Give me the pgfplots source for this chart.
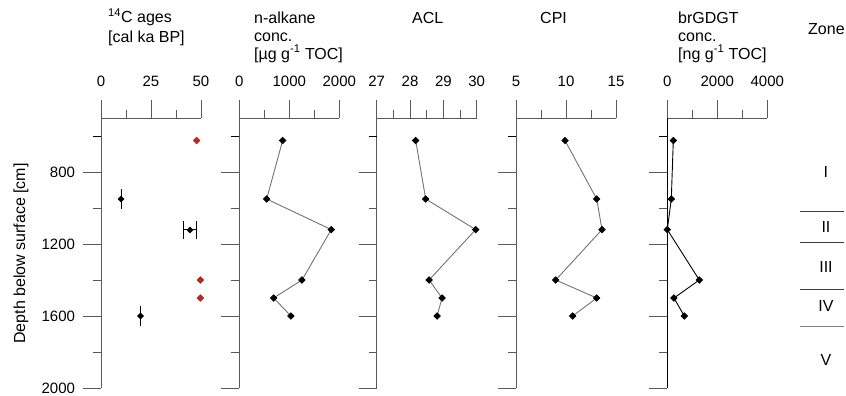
\documentclass[border=0pt]{standalone}
\usepackage{pgfplots}
\pgfplotsset{compat=1.18}
\usepackage{fontspec}
\setmainfont{Liberation Sans}
\definecolor{axgray}{RGB}{90,90,90}
\definecolor{lngray}{RGB}{115,115,115}
\definecolor{zred}{RGB}{230,20,20}
\begin{document}
\fontsize{16bp}{19bp}\selectfont
\begin{tikzpicture}[x=1bp,y=1bp]
\path[use as bounding box] (0bp,0bp) rectangle (846bp,-396bp);
\pgfplotsset{
  core/.style={
    scale only axis, width=100bp, height=270bp,
    anchor=center,
    ymin=500, ymax=2000, y dir=reverse,
    axis x line*=top, axis y line*=left,
    axis line style={draw=axgray, line width=1bp, -},
    tick align=outside,
    tick style={draw=axgray, line width=1bp},
    major tick length=18bp, minor tick length=8bp,
    ytick={800,1200,1600,2000}, minor ytick={1000,1400,1800},
    extra y ticks={600}, extra y tick labels={},
    extra y tick style={major tick length=8bp, tick style={draw=black}},
    yticklabels={},
    /pgf/number format/assume math mode=true,
    /pgf/number format/1000 sep={},
    tick label style={font=\fontsize{15bp}{18bp}\selectfont},
    xticklabel style={yshift=7.5bp},
    yticklabel style={xshift=-2.5bp},
    clip=false,
  },
  prof/.style={lngray, line width=0.9bp, mark=square*, mark size=2.2bp,
    mark options={rotate=45, fill=black, draw=black, solid}},
}
% Panel 1: 14C ages
\begin{axis}[core, at={(151bp,-253bp)}, xmin=0, xmax=50, xtick={0,25,50}, minor xtick={12.5,37.5},
  yticklabels={800,1200,1600,2000}]
\addplot[only marks, mark=square*, mark size=2.2bp, mark options={rotate=45, fill=black, draw=black},
  error bars/.cd, y dir=both, y explicit, error mark=none, error bar style={black, line width=1bp}]
  coordinates {(10,950) +- (0,53) (19.7,1600) +- (0,55)};
\addplot[only marks, mark=square*, mark size=2.2bp, mark options={rotate=45, fill=black, draw=black},
  error bars/.cd, x dir=both, x explicit, error bar style={black, line width=1bp},
  error mark options={black, line width=1bp, mark size=9bp, rotate=90}]
  coordinates {(44.5,1122) +- (3.1,0)};
\addplot[only marks, mark=square*, mark size=2.4bp, mark options={rotate=45, fill=zred, draw=black!70, line width=0.4bp}]
  coordinates {(47.8,625) (49.7,1400) (49.7,1500)};
\end{axis}
% Panel 2: n-alkane
\begin{axis}[core, at={(289.3bp,-253bp)}, xmin=0, xmax=2000, xtick={0,1000,2000}, minor xtick={500,1500}]
\addplot[prof] coordinates {(867,625) (547,950) (1840,1120) (1253,1400) (687,1500) (1033,1600)};
\end{axis}
% Panel 3: ACL
\begin{axis}[core, at={(426.7bp,-253bp)}, xmin=27, xmax=30, xtick={27,28,29,30}, minor xtick={27.5,28.5,29.5}]
\addplot[prof] coordinates {(28.17,625) (28.47,950) (29.97,1120) (28.57,1400) (28.96,1500) (28.81,1600)};
\end{axis}
% Panel 4: CPI
\begin{axis}[core, at={(566bp,-253bp)}, xmin=5, xmax=15, xtick={5,10,15}, minor xtick={7.5,12.5}]
\addplot[prof] coordinates {(9.9,625) (13.07,950) (13.6,1120) (8.97,1400) (13.07,1500) (10.67,1600)};
\end{axis}
% Panel 5: brGDGT
\begin{axis}[core, at={(717.3bp,-253bp)}, xmin=0, xmax=4000, xtick={0,2000,4000}, minor xtick={1000,3000},
  y axis line style={draw=black}]
\addplot[prof, draw=black] coordinates {(240,625) (160,950) (0,1120) (1280,1400) (267,1500) (680,1600)};
\end{axis}
% Zone column
\begin{axis}[scale only axis, width=44bp, height=270bp, anchor=center, at={(822bp,-253bp)},
  ymin=500, ymax=2000, y dir=reverse, xmin=0, xmax=1, hide axis, clip=false]
\addplot[axgray!70!black, line width=1bp] coordinates {(0,1020) (1,1020)};
\addplot[axgray!70!black, line width=1bp] coordinates {(0,1190) (1,1190)};
\addplot[axgray!70!black, line width=1bp] coordinates {(0,1455) (1,1455)};
\addplot[gray, line width=1.3bp] coordinates {(0,1660) (1,1660)};
\node at (axis cs:0.59,800) {I};
\node at (axis cs:0.59,1105) {II};
\node at (axis cs:0.59,1330) {III};
\node at (axis cs:0.59,1545) {IV};
\node at (axis cs:0.59,1845) {V};
\end{axis}
% Headers
\begin{scope}[every node/.style={anchor=base west, inner sep=0pt}]
\node at (108bp,-23bp) {\textsuperscript{14}C ages};
\node at (108bp,-42bp) {[cal ka BP]};
\node at (254bp,-23bp) {n-alkane};
\node at (254bp,-41bp) {conc.};
\node at (254bp,-59bp) {[µg g\textsuperscript{-1} TOC]};
\node at (412bp,-23bp) {ACL};
\node at (540bp,-23bp) {CPI};
\node at (678bp,-23bp) {brGDGT};
\node at (678bp,-41bp) {conc.};
\node at (678bp,-59bp) {[ng g\textsuperscript{-1} TOC]};
\node at (808bp,-34bp) {Zone};
\end{scope}
\node[rotate=90, inner sep=0pt] at (21bp,-253.5bp) {Depth below surface [cm]};
\end{tikzpicture}
\end{document}
